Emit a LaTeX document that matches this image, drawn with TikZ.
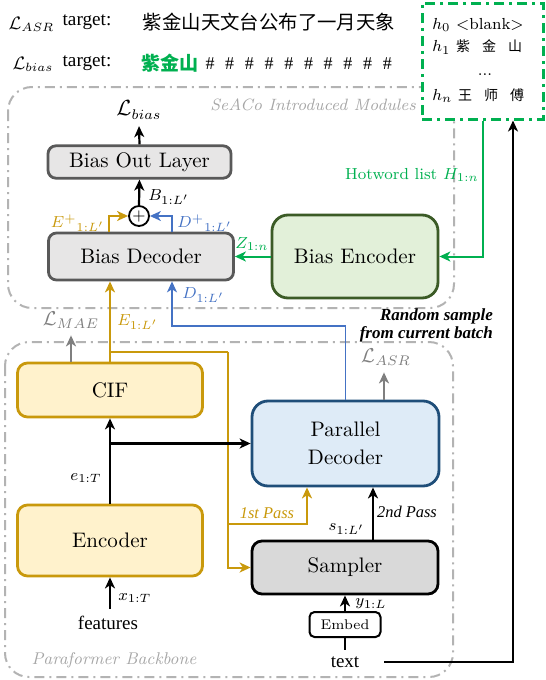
\documentclass[tikz,border=0pt]{standalone}
\usepackage{fontspec}
\usepackage{amsmath}
\usetikzlibrary{arrows.meta,calc}
\newfontfamily\cjk{Noto Sans CJK SC}
\newfontfamily\tnr{Liberation Serif}
\definecolor{gold}{HTML}{C9990C}
\definecolor{lightgold}{HTML}{FFF2CC}
\definecolor{dblue}{HTML}{1F4E79}
\definecolor{lblue}{HTML}{DEEBF7}
\definecolor{lineblue}{HTML}{4472C4}
\definecolor{hgreen}{HTML}{00B050}
\definecolor{dgreen}{HTML}{3B5B26}
\definecolor{lgreen}{HTML}{E2F0D9}
\definecolor{boxgray}{HTML}{E7E6E6}
\definecolor{edgegray}{HTML}{595959}
\definecolor{sampgray}{HTML}{D9D9D9}
\definecolor{framegray}{HTML}{B3B3B3}
\definecolor{labgray}{HTML}{7F7F7F}
\definecolor{notegray}{HTML}{A6A6A6}

\begin{document}
\begin{tikzpicture}[x=0.5pt,y=-0.5pt,
  font=\fontsize{10.5}{14}\selectfont,
  gbox/.style={draw=edgegray,fill=boxgray,line width=1.4pt,rounded corners=4pt,align=center},
  ybox/.style={draw=gold,fill=lightgold,line width=1.4pt,rounded corners=5pt,align=center},
  bbox/.style={draw=dblue,fill=lblue,line width=1.4pt,rounded corners=8pt,align=center},
  grbox/.style={draw=dgreen,fill=lgreen,line width=1.4pt,rounded corners=8pt,align=center},
  sbox/.style={draw=black,fill=sampgray,line width=1.4pt,rounded corners=5pt,align=center},
  frm/.style={draw=framegray,line width=1pt,dash pattern=on 5pt off 2.5pt on 1pt off 2.5pt,rounded corners=12pt},
  lab/.style={font=\fontsize{8.5}{10}\selectfont,inner sep=1pt},
  karr/.style={-{Stealth[length=5.5pt,width=5pt,inset=1.6pt]},line width=1.1pt},
  oarr/.style={karr,draw=gold,line width=1pt},
  barr/.style={karr,draw=lineblue,line width=0.8pt},
  grarr/.style={karr,draw=hgreen,line width=1pt},
  gyarr/.style={karr,draw=labgray,line width=1pt}
]
\useasboundingbox (0,0) rectangle (546,680);

% frames
\draw[frm] (8,87) rectangle (454,308);
\draw[frm] (5,342) rectangle (453,677);
\node[font=\itshape\fontsize{8.2}{10}\selectfont,text=notegray] (seaco) at (313,105) {SeACo Introduced Modules};
\node[font=\itshape\fontsize{8.5}{10}\selectfont,text=notegray] (pbb) at (114,660) {Paraformer Backbone};

% targets
\node[font=\fontsize{9}{10}\selectfont] (lasrt) at (31.5,24) {$\mathcal{L}_{ASR}$};
\node[font=\tnr\fontsize{9.6}{11}\selectfont] (tgta) at (87,22) {target:};
\node[font=\cjk\fontsize{9.7}{11}\selectfont] (asrseq) at (269,22) {紫金山天文台公布了一月天象};
\node[font=\fontsize{9}{10}\selectfont] (lbiast) at (33,64) {$\mathcal{L}_{bias}$};
\node[font=\tnr\fontsize{9.6}{11}\selectfont] (tgtb) at (87,63) {target:};
\node[font=\cjk\bfseries\fontsize{9.5}{11}\selectfont,text=hgreen] (hwseq) at (170,63) {紫金山};
\foreach \i in {0,...,9}
  \node[font=\tnr\fontsize{9}{10}\selectfont] (hash\i) at ({210+19.7*\i},64) {\#};

% hotword list
\node[draw=hgreen,fill=white,line width=1.5pt,dash pattern=on 5pt off 2.5pt on 1.5pt off 2.5pt,
  minimum width=60.5pt,minimum height=58pt] (hot) at (482.5,61) {};
\node[font=\fontsize{8}{9.6}\selectfont,anchor=west,inner sep=0pt] (h0) at (432,25) {$h_0$ \textless blank\textgreater};
\node[font=\fontsize{8}{9.6}\selectfont,anchor=west,inner sep=0pt] (h1) at (432,47) {$h_1$ {\cjk\fontsize{7}{8}\selectfont 紫\hspace{6pt}金\hspace{6pt}山}};
\node[font=\fontsize{8}{9.6}\selectfont] (hdots) at (485,75) {...};
\node[font=\fontsize{8}{9.6}\selectfont,anchor=west,inner sep=0pt] (hn) at (432,96) {$h_n$ {\cjk\fontsize{7}{8}\selectfont 王\hspace{6pt}师\hspace{6pt}傅}};

% SeACo modules
\node[gbox,minimum width=91.5pt,minimum height=16pt] (outl) at (139.5,162) {Bias Out Layer};
\node[gbox,minimum width=92.5pt,minimum height=23.5pt] (bdec) at (141,256.5) {Bias Decoder};
\node[draw,circle,line width=0.9pt,fill=white,minimum size=10pt,inner sep=0pt,font=\fontsize{8}{8}\selectfont] (plus) at (139,216) {$+$};
\node[grbox,minimum width=83pt,minimum height=41.5pt] (benc) at (355,256.5) {Bias Encoder};
\node[font=\fontsize{10.5}{12}\selectfont] (lbias) at (139,110) {$\mathcal{L}_{bias}$};

% Paraformer backbone
\node[ybox,minimum width=92.5pt,minimum height=27pt] (cif) at (110,390) {CIF};
\node[ybox,minimum width=92.5pt,minimum height=35.5pt] (enc) at (110,540.5) {Encoder};
\node[bbox,minimum width=93.5pt,minimum height=42.5pt] (pdec) at (345.5,443.5) {Parallel\\Decoder};
\node[sbox,minimum width=93pt,minimum height=26.5pt] (samp) at (345,567.5) {Sampler};
\node[draw,line width=1pt,rounded corners=2.5pt,minimum width=35.5pt,minimum height=12.5pt,font=\fontsize{7}{8}\selectfont] (embed) at (345,624.5) {Embed};
\node[font=\tnr\fontsize{9.5}{11}\selectfont] (feat) at (108,623) {features};
\node[font=\tnr\fontsize{9.5}{11}\selectfont] (txt) at (345,662) {text};
\node[font=\fontsize{10}{12}\selectfont,text=labgray] (lmae) at (71,320) {$\mathcal{L}_{MAE}$};
\node[font=\fontsize{10}{12}\selectfont,text=labgray] (lasr) at (386,357) {$\mathcal{L}_{ASR}$};

% labels
\node[lab,text=gold,anchor=east] (lep) at (107,223) {${E^{+}}_{1:L'}$};
\node[lab,text=lineblue,anchor=west] (ldp) at (175,223) {${D^{+}}_{1:L'}$};
\node[lab,anchor=west] (lb) at (146,197) {$B_{1:L'}$};
\node[lab,text=hgreen] (lz) at (252,244) {$Z_{1:n}$};
\node[lab,text=gold,anchor=west] (le) at (115,322) {$E_{1:L'}$};
\node[lab,text=lineblue,anchor=west] (ld) at (180,295) {$D_{1:L'}$};
\node[lab,anchor=east] (lee) at (104,478) {$e_{1:T}$};
\node[lab,anchor=west] (lx) at (116,598) {$x_{1:T}$};
\node[lab,anchor=east] (ls) at (367,529) {$s_{1:L'}$};
\node[lab,anchor=west] (ly) at (353,604) {$y_{1:L}$};
\node[font=\fontsize{8}{10}\selectfont,text=hgreen] (hwl) at (412,175) {Hotword list $H_{1:n}$};
\node[font=\tnr\itshape\fontsize{8.2}{9}\selectfont,text=gold] (p1l) at (267,513) {1st Pass};
\node[font=\tnr\itshape\fontsize{8.2}{9}\selectfont] (p2l) at (407,512) {2nd Pass};
\node[font=\tnr\bfseries\itshape\fontsize{8.5}{9}\selectfont,align=right,anchor=east] (rnd) at (500,325) {Random sample\\from current batch};

% SeACo connectors
\draw[karr] (outl.north) -- (lbias.south);
\draw[karr] (plus.north) -- (outl.south);
\draw[oarr] ($(bdec.north)+(-32,0)$) |- (plus.west);
\draw[barr] ($(bdec.north)+(31,0)$) |- (plus.east);
\draw[grarr] (benc.west) -- (bdec.east);
\draw[grarr] (hot.south) |- (benc.east);
\draw[karr] ([xshift=9pt]txt.east) -| ($(hot.south)+(30.5,0)$);

% backbone connectors
\coordinate (obr) at (110,352);
\coordinate (ocol) at (228,352);
\coordinate (pass1) at (228,524);
\coordinate (dcor) at (172,326);
\draw[oarr] (cif.north) -- (cif.north |- bdec.south);
\draw[draw=gold,line width=1pt] (obr) -- (ocol);
\draw[oarr] (ocol) |- (samp.west);
\draw[oarr] (pass1) -| ($(pdec.south)+(-38.5,0)$);
\draw[barr] (pdec.north) |- (dcor) -- (dcor |- bdec.south);
\draw[gyarr] (cif.north -| lmae) -- (lmae.south);
\draw[gyarr] ($(pdec.north)+(38.5,0)$) -- ($(lasr.south)+(-2,0)$);
\draw[karr] (enc.north) -- (cif.south);
\draw[karr] (enc.north |- pdec.west) -- (pdec.west);
\draw[karr] ($(samp.north)+(28,0)$) -- ($(pdec.south)+(27.5,0)$);
\draw[karr] (embed.north) -- (samp.south);
\draw[line width=1.1pt] (txt.north) -- (embed.south);
\draw[karr] (feat.north -| enc.south) -- (enc.south);
\end{tikzpicture}
\end{document}
